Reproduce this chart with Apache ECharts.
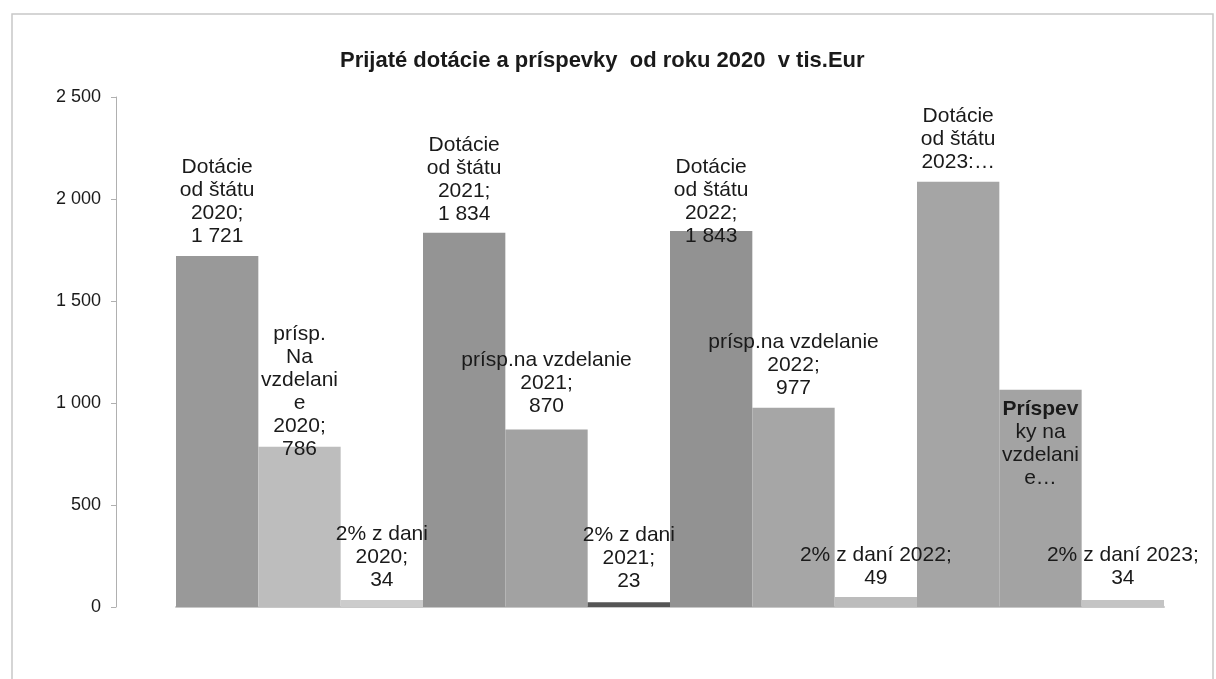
<!DOCTYPE html>
<html>
<head>
<meta charset="utf-8">
<script src="https://cdn.jsdelivr.net/npm/echarts@6/dist/echarts.min.js"></script>
<style>
  html, body { margin: 0; padding: 0; background: #fff; }
  #chart { width: 1216px; height: 679px; }
</style>
</head>
<body>
<div id="chart"></div>
<script>
var categories = [
    'Dotácie od štátu 2020', 'prísp. Na vzdelanie 2020', '2% z daní 2020',
    'Dotácie od štátu 2021', 'prísp.na vzdelanie 2021', '2% z daní 2021',
    'Dotácie od štátu 2022', 'prísp.na vzdelanie 2022', '2% z daní 2022',
    'Dotácie od štátu 2023', 'Príspevky na vzdelanie 2023', '2% z daní 2023'
];
var values = [1721, 786, 34, 1834, 870, 23, 1843, 977, 49, 2085, 1065, 34];
// label text as wrapped in the picture (value is appended unless cut off with …)
var labelNames = [
    'Dotácie\nod štátu\n2020;', 'prísp.\nNa\nvzdelani\ne\n2020;', '2% z dani\n2020;',
    'Dotácie\nod štátu\n2021;', 'prísp.na vzdelanie\n2021;', '2% z dani\n2021;',
    'Dotácie\nod štátu\n2022;', 'prísp.na vzdelanie\n2022;', '2% z daní 2022;',
    'Dotácie\nod štátu\n2023:…', 'Príspev\nky na\nvzdelani\ne…', '2% z daní 2023;'
];
var yTicks = [0, 500, 1000, 1500, 2000, 2500];

function fmt(v) {
    return String(v).replace(/\B(?=(\d{3})+(?!\d))/g, ' ');
}

var barColors = ['#999999', '#bdbdbd', '#cccccc',
                 '#949494', '#a2a2a2', '#555555',
                 '#929292', '#a6a6a6', '#bcbcbc',
                 '#a5a5a5', '#a3a3a3', '#c4c4c4'];

var labelPos = [
    {position: 'top', distance: 8},
    {position: 'top', distance: 6, offset: [0, 20]},
    {position: 'top', distance: 8},
    {position: 'top', distance: 7},
    {position: 'top', distance: 12},
    {position: 'top', distance: 10},
    {position: 'top', distance: 6, offset: [0, 23]},
    {position: 'top', distance: 8},
    {position: 'top', distance: 7},
    {position: 'top', distance: 8},
    {position: 'insideTop', distance: 8},
    {position: 'top', distance: 10}
];

var dom = document.getElementById('chart');
var myChart = echarts.init(dom);

var seriesData = values.map(function (v, i) {
    return {
        value: v,
        itemStyle: {color: barColors[i]},
        label: labelPos[i]
    };
});

var option = {
    animation: false,
    backgroundColor: '#fff',
    textStyle: {fontFamily: '"Liberation Sans", Arial, sans-serif'},
    title: {
        text: 'Prijaté dotácie a príspevky  od roku 2020  v tis.Eur',
        left: 335,
        top: 45,
        textStyle: {fontSize: 22, fontWeight: 'bold', color: '#1a1a1a',
                    fontFamily: '"Liberation Sans", Arial, sans-serif'}
    },
    graphic: [{
        type: 'rect',
        shape: {x: 12, y: 14, width: 1201, height: 700},
        style: {fill: 'none', stroke: '#c8c8c8', lineWidth: 1.5},
        silent: true
    }],
    grid: {left: 176, right: 52, top: 97, bottom: 72},
    xAxis: {
        type: 'category',
        data: categories,
        axisLine: {show: true, lineStyle: {color: '#c8c8c8', width: 2}},
        axisTick: {show: false},
        axisLabel: {show: false},
        splitLine: {show: false}
    },
    yAxis: {
        type: 'value',
        min: 0,
        max: 2500,
        interval: 500,
        offset: 60,
        axisLine: {show: true, lineStyle: {color: '#b0b0b0'}},
        axisTick: {show: true, length: 5, lineStyle: {color: '#b0b0b0'}},
        splitLine: {show: false},
        axisLabel: {
            fontSize: 18,
            color: '#1a1a1a',
            margin: 15,
            formatter: function (v) { return fmt(v); }
        }
    },
    series: [{
        type: 'bar',
        data: seriesData,
        barCategoryGap: 0,
        label: {
            show: true,
            fontSize: 21,
            lineHeight: 23,
            color: '#1a1a1a',
            align: 'center',
            formatter: function (p) {
                var n = labelNames[p.dataIndex];
                if (p.dataIndex === 10) {
                    var parts = n.split('\n');
                    return '{b|' + parts[0] + '}\n' + parts.slice(1).join('\n');
                }
                if (n.charAt(n.length - 1) === '…') return n;
                return n + '\n' + fmt(p.value);
            },
            rich: {
                b: {fontWeight: 'bold', fontSize: 21, lineHeight: 23, color: '#1a1a1a'}
            }
        }
    }]
};

myChart.setOption(option);
</script>
</body>
</html>
